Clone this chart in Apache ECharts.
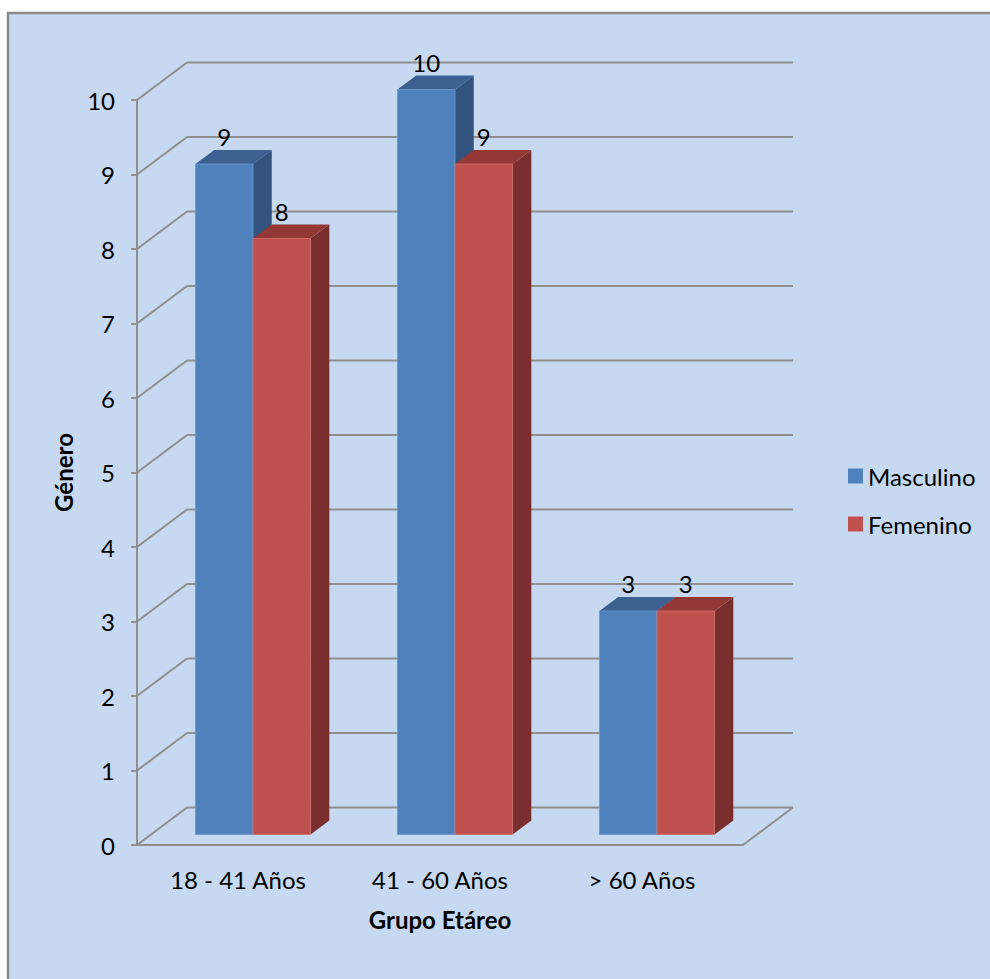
<!DOCTYPE html>
<html>
<head>
<meta charset="utf-8">
<script src="https://cdn.jsdelivr.net/npm/echarts@6/dist/echarts.min.js"></script>
<style>
html,body{margin:0;padding:0;background:#ffffff;}
#main{width:990px;height:979px;}
</style>
</head>
<body>
<div id="main"></div>
<script>
// ---- data ----
const categories = ['18 - 41 Años', '41 - 60 Años', '> 60 Años'];
const seriesNames = ['Masculino', 'Femenino'];
const masculino = [9, 10, 3];
const femenino = [8, 9, 3];
const yTicks = [0, 1, 2, 3, 4, 5, 6, 7, 8, 9, 10];

// ---- styling ----
const FONT = 'Lato';
const GRID_COLOR = '#8f8f8f';
const DEPTH = [50, -37.5];          // back-wall offset
const BAR_FRONT = 0.28;             // bar front face depth fraction
const BAR_BACK = 0.655;             // bar back face depth fraction
const BAR_W = 0.285;                // bar width as fraction of category band
const PALETTE = {
  Masculino: { front: '#4f81bd', top: '#3c6191', side: '#31537d', edge: '#6f97cb' },
  Femenino:  { front: '#c0504d', top: '#943836', side: '#7b2e2e', edge: '#cf6e6b' }
};

const chart = echarts.init(document.getElementById('main'), null, { renderer: 'svg' });

function wallItem(params, api) {
  const rect = params.coordSys;
  const v = api.value(1);
  const y = api.coord([0, v])[1];
  const x0 = rect.x, x1 = rect.x + rect.width;
  const st = { stroke: GRID_COLOR, lineWidth: 2 };
  const children = [
    { type: 'line', shape: { x1: x0, y1: y, x2: x0 + DEPTH[0], y2: y + DEPTH[1] }, style: st },
    { type: 'line', shape: { x1: x0 + DEPTH[0], y1: y + DEPTH[1], x2: x1 + DEPTH[0], y2: y + DEPTH[1] }, style: st }
  ];
  if (v === 0) {
    children.push({ type: 'line', shape: { x1: x1, y1: y, x2: x1 + DEPTH[0], y2: y + DEPTH[1] }, style: st });
  }
  return { type: 'group', children: children };
}

function barItemFactory(name, sIdx) {
  const c = PALETTE[name];
  return function (params, api) {
    const idx = api.value(0), v = api.value(1);
    const base = api.coord([idx, 0]);
    const top = api.coord([idx, v]);
    const band = api.size([1, 0])[0];
    const w = band * BAR_W;
    const cx = base[0] + 1;
    const xl = sIdx === 0 ? cx - w : cx;
    const xr = xl + w;
    const fx = DEPTH[0] * BAR_FRONT, fy = DEPTH[1] * BAR_FRONT;
    const bx = DEPTH[0] * BAR_BACK, by = DEPTH[1] * BAR_BACK;
    const ty = top[1], yb = base[1];
    return {
      type: 'group',
      children: [
        { type: 'polygon', shape: { points: [[xr + fx, ty + fy], [xr + bx, ty + by], [xr + bx, yb + by], [xr + fx, yb + fy]] },
          style: { fill: c.side } },
        { type: 'polygon', shape: { points: [[xl + fx, ty + fy], [xr + fx, ty + fy], [xr + bx, ty + by], [xl + bx, ty + by]] },
          style: { fill: c.top } },
        { type: 'rect', shape: { x: xl + fx, y: ty + fy, width: w, height: yb - ty },
          style: { fill: c.front, stroke: c.edge, lineWidth: 0.8 } },
        { type: 'text', x: (xl + xr) / 2 + fx, y: ty + by - 1,
          style: { text: String(v), fill: '#000', font: '24px ' + FONT, align: 'center', verticalAlign: 'bottom' } }
      ]
    };
  };
}

const option = {
  backgroundColor: 'transparent',
  animation: false,
  color: [PALETTE.Masculino.front, PALETTE.Femenino.front],
  graphic: [{
    type: 'rect', z: -10, silent: true,
    shape: { x: 8, y: 13, width: 1100, height: 1100 },
    style: { fill: '#c6d9f1', stroke: '#8a8a8a', lineWidth: 2.5 }
  }],
  legend: {
    orient: 'vertical',
    left: 843, top: 459,
    itemWidth: 15, itemHeight: 15, itemGap: 24,
    icon: 'rect',
    data: seriesNames,
    textStyle: { fontFamily: FONT, fontSize: 24, color: '#000', lineHeight: 24 }
  },
  grid: { left: 137, top: 100, width: 606, height: 745 },
  xAxis: {
    type: 'category',
    data: categories,
    axisLine: { show: true, lineStyle: { color: GRID_COLOR, width: 2 } },
    axisTick: { show: false },
    axisLabel: { fontFamily: FONT, fontSize: 24, color: '#000', margin: 22 },
    name: 'Grupo Etáreo',
    nameLocation: 'middle',
    nameGap: 62,
    nameTextStyle: { fontFamily: FONT, fontSize: 24, fontWeight: 'bold', color: '#000' }
  },
  yAxis: {
    type: 'value',
    min: 0, max: 10, interval: 1,
    axisLine: { show: true, lineStyle: { color: GRID_COLOR, width: 2 } },
    axisTick: { show: true, length: 6, lineStyle: { color: GRID_COLOR, width: 2 } },
    splitLine: { show: false },
    axisLabel: { fontFamily: FONT, fontSize: 24, color: '#000', margin: 22 },
    name: 'Género',
    nameLocation: 'middle',
    nameRotate: 90,
    nameGap: 62,
    nameTextStyle: { fontFamily: FONT, fontSize: 24, fontWeight: 'bold', color: '#000' }
  },
  series: [
    {
      type: 'custom', name: 'walls', z: 1, silent: true,
      renderItem: wallItem,
      data: yTicks.map(v => [0, v]),
      clip: false
    },
    {
      type: 'custom', name: seriesNames[0], z: 2,
      itemStyle: { color: PALETTE.Masculino.front },
      renderItem: barItemFactory(seriesNames[0], 0),
      data: masculino.map((v, i) => [i, v]),
      clip: false
    },
    {
      type: 'custom', name: seriesNames[1], z: 3,
      itemStyle: { color: PALETTE.Femenino.front },
      renderItem: barItemFactory(seriesNames[1], 1),
      data: femenino.map((v, i) => [i, v]),
      clip: false
    }
  ]
};
chart.setOption(option);
</script>
</body>
</html>
